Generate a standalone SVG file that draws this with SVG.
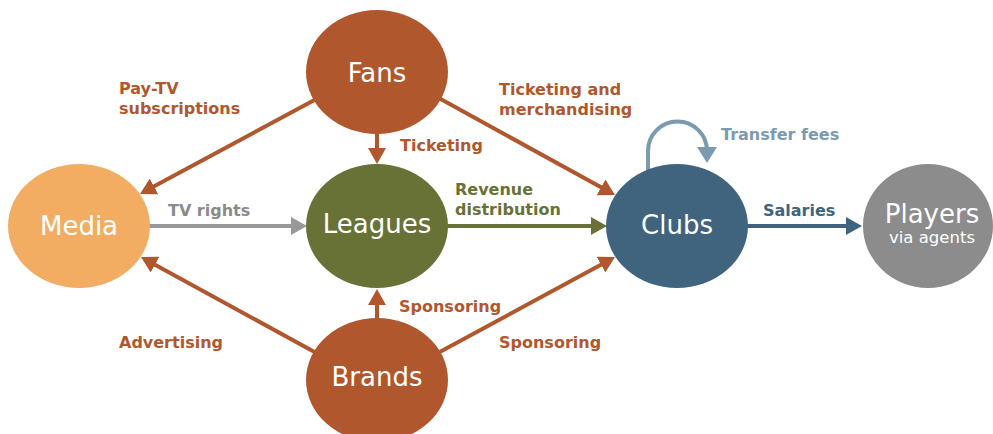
<svg xmlns="http://www.w3.org/2000/svg" width="993" height="434" viewBox="0 0 993 434">
<style>
.node text{font-family:"DejaVu Sans",sans-serif;fill:#fff;text-anchor:middle;font-size:26px}
.lbl{font-family:"DejaVu Sans",sans-serif;font-weight:bold;font-size:16px}
.rust{fill:#B0572E}
.c line,.c path{fill:none;stroke-width:4}
</style>
<defs>
<marker id="mr" viewBox="0 0 16 18" refX="12" refY="9" markerWidth="16" markerHeight="18" markerUnits="userSpaceOnUse" orient="auto"><path d="M0,0L16,9L0,18z" fill="#B0572E"/></marker>
<marker id="mg" viewBox="0 0 16 18" refX="12" refY="9" markerWidth="16" markerHeight="18" markerUnits="userSpaceOnUse" orient="auto"><path d="M0,0L16,9L0,18z" fill="#999999"/></marker>
<marker id="mv" viewBox="0 0 16 18" refX="12" refY="9" markerWidth="16" markerHeight="18" markerUnits="userSpaceOnUse" orient="auto"><path d="M0,0L16,9L0,18z" fill="#687236"/></marker>
<marker id="mb" viewBox="0 0 16 18" refX="12" refY="9" markerWidth="16" markerHeight="18" markerUnits="userSpaceOnUse" orient="auto"><path d="M0,0L16,9L0,18z" fill="#40647E"/></marker>
<marker id="ml" viewBox="0 0 16 20" refX="12" refY="10" markerWidth="16" markerHeight="20" markerUnits="userSpaceOnUse" orient="auto"><path d="M0,0L16,10L0,20z" fill="#7B9AAF"/></marker>
</defs>
<rect width="993" height="434" fill="#fff"/>
<g id="connectors" class="c">
<line x1="320" y1="97" x2="143.5" y2="192.1" stroke="#B0572E" marker-end="url(#mr)"/>
<line x1="377" y1="130" x2="377" y2="160" stroke="#B0572E" marker-end="url(#mr)"/>
<line x1="437" y1="97" x2="611.5" y2="193.1" stroke="#B0572E" marker-end="url(#mr)"/>
<line x1="320" y1="355" x2="144.5" y2="258.9" stroke="#B0572E" marker-end="url(#mr)"/>
<line x1="377" y1="322" x2="377" y2="293" stroke="#B0572E" marker-end="url(#mr)"/>
<line x1="436" y1="354" x2="611.5" y2="258.9" stroke="#B0572E" marker-end="url(#mr)"/>
<line x1="145" y1="226" x2="303" y2="226" stroke="#999999" stroke-width="3.5" marker-end="url(#mg)"/>
<line x1="445" y1="226" x2="603" y2="226" stroke="#687236" marker-end="url(#mv)"/>
<line x1="745" y1="226" x2="858" y2="226" stroke="#40647E" marker-end="url(#mb)"/>
<path d="M648,170L648,151A29.5,29.5 0 0 1 707,151L707,159" stroke="#7B9AAF" stroke-width="6" marker-end="url(#ml)"/>
</g>
<g id="fans" class="node"><ellipse cx="377" cy="72" rx="71" ry="62" fill="#B0572E"/><text x="377" y="82">Fans</text></g>
<g id="media" class="node"><ellipse cx="79" cy="226" rx="71" ry="62" fill="#F2AD62"/><text x="79" y="235">Media</text></g>
<g id="leagues" class="node"><ellipse cx="377" cy="226" rx="71" ry="62" fill="#687236"/><text x="377" y="233">Leagues</text></g>
<g id="clubs" class="node"><ellipse cx="677" cy="226" rx="71" ry="62" fill="#40647E"/><text x="677" y="234">Clubs</text></g>
<g id="players" class="node"><ellipse cx="928" cy="226" rx="65" ry="62" fill="#8C8C8C"/><text x="932" y="223">Players</text><text x="932" y="243" style="font-size:16.5px">via agents</text></g>
<g id="brands" class="node"><ellipse cx="377" cy="380" rx="71" ry="62" fill="#B0572E"/><text x="377" y="386">Brands</text></g>
<g id="labels">
<text class="lbl rust" x="119" y="94">Pay-TV</text>
<text class="lbl rust" x="119" y="114">subscriptions</text>
<text class="lbl rust" x="400" y="151">Ticketing</text>
<text class="lbl rust" x="499" y="95">Ticketing and</text>
<text class="lbl rust" x="499" y="115">merchandising</text>
<text class="lbl" x="721" y="140" fill="#7B9AAF">Transfer fees</text>
<text class="lbl" x="168" y="216" fill="#8B8B8B">TV rights</text>
<text class="lbl" x="455" y="195" fill="#687236">Revenue</text>
<text class="lbl" x="455" y="215" fill="#687236">distribution</text>
<text class="lbl" x="763" y="216" fill="#40647E">Salaries</text>
<text class="lbl rust" x="119" y="348">Advertising</text>
<text class="lbl rust" x="399" y="312">Sponsoring</text>
<text class="lbl rust" x="499" y="348">Sponsoring</text>
</g>
</svg>
